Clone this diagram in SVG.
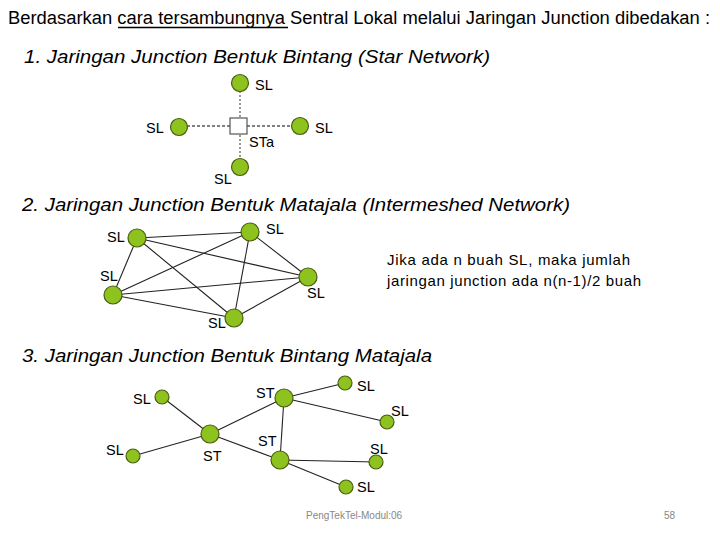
<svg xmlns="http://www.w3.org/2000/svg" width="720" height="540" viewBox="0 0 720 540">
<style>
text{font-family:"Liberation Sans",Arial,sans-serif;fill:#000}
.h{font-size:18px}
.s{font-size:18.5px;font-style:italic}
.l{font-size:14.5px}
.t{font-size:15px}
.n{fill:#8dc21f;stroke:#4a5e10;stroke-width:1.2}
.e{stroke:#222;stroke-width:1.1;fill:none}
.f{font-size:10px;fill:#888}
</style>
<rect width="720" height="540" fill="#fff"/>
<text class="h" x="8" y="24" textLength="702" lengthAdjust="spacingAndGlyphs">Berdasarkan cara tersambungnya Sentral Lokal melalui Jaringan Junction dibedakan :</text>
<line x1="118" y1="27.5" x2="288" y2="27.5" stroke="#000" stroke-width="1.3"/>
<text class="s" x="24" y="63" textLength="466" lengthAdjust="spacingAndGlyphs">1. Jaringan Junction Bentuk Bintang (Star Network)</text>
<text class="s" x="22" y="211" textLength="548" lengthAdjust="spacingAndGlyphs">2. Jaringan Junction Bentuk Matajala (Intermeshed Network)</text>
<text class="s" x="22" y="362" textLength="410" lengthAdjust="spacingAndGlyphs">3. Jaringan Junction Bentuk Bintang Matajala</text>
<g id="connectors">
<line x1="240" y1="91" x2="240" y2="159" stroke="#777" stroke-width="1.5" stroke-dasharray="2,2"/>
<line x1="187" y1="126" x2="292" y2="126" stroke="#000" stroke-width="1" stroke-dasharray="3,2"/>
<g class="e">
<line x1="137" y1="238" x2="250" y2="232"/>
<line x1="137" y1="238" x2="308" y2="277"/>
<line x1="137" y1="238" x2="113" y2="295"/>
<line x1="137" y1="238" x2="234" y2="318"/>
<line x1="250" y1="232" x2="113" y2="295"/>
<line x1="250" y1="232" x2="308" y2="277"/>
<line x1="250" y1="232" x2="234" y2="318"/>
<line x1="308" y1="277" x2="113" y2="295"/>
<line x1="308" y1="277" x2="234" y2="318"/>
<line x1="113" y1="295" x2="234" y2="318"/>
<line x1="162" y1="397" x2="210" y2="434"/>
<line x1="133" y1="456" x2="210" y2="434"/>
<line x1="210" y1="434" x2="284" y2="398"/>
<line x1="210" y1="434" x2="280" y2="460"/>
<line x1="284" y1="398" x2="280" y2="460"/>
<line x1="284" y1="398" x2="345" y2="383"/>
<line x1="284" y1="398" x2="387" y2="422"/>
<line x1="280" y1="460" x2="376" y2="462"/>
<line x1="280" y1="460" x2="346" y2="487"/>
</g>
</g>
<g id="star">
<rect id="sta" x="230" y="118" width="17" height="16" fill="#fff" stroke="#555" stroke-width="1.2"/>
<g id="s1-top"><circle class="n" cx="240" cy="83" r="8.5"/><text class="l" x="255" y="90">SL</text></g>
<g id="s1-left"><circle class="n" cx="179" cy="127" r="8.5"/><text class="l" x="146" y="133">SL</text></g>
<g id="s1-right"><circle class="n" cx="300" cy="126" r="8.5"/><text class="l" x="315" y="133">SL</text></g>
<g id="s1-bottom"><circle class="n" cx="240" cy="167" r="8.5"/><text class="l" x="214" y="184">SL</text></g>
<text class="l" x="249" y="147">STa</text>
</g>
<g id="mesh">
<g id="m-a"><circle class="n" cx="137" cy="238" r="9"/><text class="l" x="107" y="242">SL</text></g>
<g id="m-b"><circle class="n" cx="250" cy="232" r="9"/><text class="l" x="266" y="234">SL</text></g>
<g id="m-c"><circle class="n" cx="308" cy="277" r="9"/><text class="l" x="307" y="298">SL</text></g>
<g id="m-d"><circle class="n" cx="113" cy="295" r="9"/><text class="l" x="100" y="281">SL</text></g>
<g id="m-e"><circle class="n" cx="234" cy="318" r="9"/><text class="l" x="208" y="328">SL</text></g>
</g>
<g id="note">
<text class="t" x="387" y="265" textLength="243" lengthAdjust="spacing">Jika ada n buah SL, maka jumlah</text>
<text class="t" x="387" y="286" textLength="254" lengthAdjust="spacing">jaringan junction ada n(n-1)/2 buah</text>
</g>
<g id="hybrid">
<g id="h-sl1"><circle class="n" cx="162" cy="397" r="7"/><text class="l" x="133" y="404">SL</text></g>
<g id="h-sl2"><circle class="n" cx="133" cy="456" r="7"/><text class="l" x="106" y="455">SL</text></g>
<g id="h-st1"><circle class="n" cx="210" cy="434" r="9"/><text class="l" x="203" y="461">ST</text></g>
<g id="h-st2"><circle class="n" cx="284" cy="398" r="9"/><text class="l" x="256" y="398">ST</text></g>
<g id="h-st3"><circle class="n" cx="280" cy="460" r="9"/><text class="l" x="258" y="446">ST</text></g>
<g id="h-sl3"><circle class="n" cx="345" cy="383" r="7"/><text class="l" x="357" y="391">SL</text></g>
<g id="h-sl4"><circle class="n" cx="387" cy="422" r="7"/><text class="l" x="391" y="416">SL</text></g>
<g id="h-sl5"><circle class="n" cx="376" cy="462" r="7"/><text class="l" x="370" y="454">SL</text></g>
<g id="h-sl6"><circle class="n" cx="346" cy="487" r="7"/><text class="l" x="357" y="492">SL</text></g>
</g>
<text class="f" x="306" y="519">PengTekTel-Modul:06</text>
<text class="f" x="664" y="519">58</text>
</svg>
